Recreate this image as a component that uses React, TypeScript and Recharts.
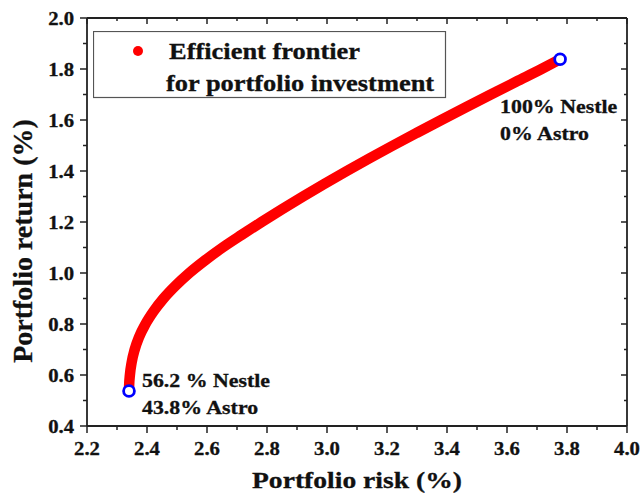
import React from 'react';
import { LineChart, Line, XAxis, YAxis, Legend } from 'recharts';

// Efficient frontier readings (risk %, return %)
const riskValues = [2.340, 2.3405, 2.343, 2.349, 2.359, 2.374, 2.395, 2.422, 2.455, 2.495, 2.541, 2.594, 2.652, 2.716, 2.782, 2.850, 2.920, 2.992, 3.066, 3.142, 3.220, 3.300, 3.381, 3.463, 3.546, 3.630, 3.715, 3.777];
const returnValues = [0.537, 0.56, 0.60, 0.65, 0.70, 0.75, 0.80, 0.85, 0.90, 0.95, 1.00, 1.05, 1.10, 1.15, 1.20, 1.25, 1.30, 1.35, 1.40, 1.45, 1.50, 1.55, 1.60, 1.65, 1.70, 1.75, 1.80, 1.838];

const xMajorTicks = [2.2, 2.4, 2.6, 2.8, 3.0, 3.2, 3.4, 3.6, 3.8, 4.0];
const xMinorTicks = [2.3, 2.5, 2.7, 2.9, 3.1, 3.3, 3.5, 3.7, 3.9];
const yMajorTicks = [0.4, 0.6, 0.8, 1.0, 1.2, 1.4, 1.6, 1.8, 2.0];
const yMinorTicks = [0.5, 0.7, 0.9, 1.1, 1.3, 1.5, 1.7, 1.9];

const legendLines = ['Efficient frontier', 'for portfolio investment'];
const startLabel = ['56.2 % Nestle', '43.8% Astro'];
const endLabel = ['100% Nestle', '0% Astro'];
const xTitle = 'Portfolio risk (%)';
const yTitle = 'Portfolio return (%)';

const data = riskValues.map((r, i) => ({ risk: r, ret: returnValues[i] }));
const xTicks = [...xMajorTicks, ...xMinorTicks].sort((a, b) => a - b);
const yTicks = [...yMajorTicks, ...yMinorTicks].sort((a, b) => a - b);

const FONT = '"Liberation Serif", "Times New Roman", serif';
const AX = '#222';
const SX = 1.15;
const TXT = { fontFamily: FONT, fontWeight: 'bold' as const, fill: '#111', stroke: '#111', strokeWidth: 0.3 };

const BottomTick = (p: any) => {
  const { x, y, payload } = p;
  const major = xMajorTicks.includes(payload.value);
  return (
    <g>
      <line x1={x} y1={y} x2={x} y2={y + (major ? 7 : 4)} stroke={AX} strokeWidth={1.5} />
      {major && (
        <text transform={`translate(${x},${y + 29}) scale(${SX},1)`} textAnchor="middle" fontSize={18} {...TXT}>
          {payload.value.toFixed(1)}
        </text>
      )}
    </g>
  );
};

const TopTick = (p: any) => {
  const { x, y, payload } = p;
  const major = xMajorTicks.includes(payload.value);
  return <line x1={x} y1={y} x2={x} y2={y + (major ? 6 : 3)} stroke={AX} strokeWidth={1.5} />;
};

const LeftTick = (p: any) => {
  const { x, y, payload } = p;
  const major = yMajorTicks.includes(payload.value);
  return (
    <g>
      <line x1={x} y1={y} x2={x - (major ? 7 : 4)} y2={y} stroke={AX} strokeWidth={1.5} />
      {major && (
        <text transform={`translate(${x - 13},${y + 7}) scale(${SX},1)`} textAnchor="end" fontSize={18} {...TXT}>
          {payload.value.toFixed(1)}
        </text>
      )}
    </g>
  );
};

const RightTick = (p: any) => {
  const { x, y, payload } = p;
  const major = yMajorTicks.includes(payload.value);
  return <line x1={x} y1={y} x2={x - (major ? 6 : 3)} y2={y} stroke={AX} strokeWidth={1.5} />;
};

const XTitle = (p: any) => {
  const vb = p.viewBox || {};
  const cx = vb.x + vb.width / 2;
  return (
    <text transform={`translate(${cx},${vb.y + 62}) scale(${SX},1)`} textAnchor="middle" fontSize={24} {...TXT}>
      {xTitle}
    </text>
  );
};

const YTitle = (p: any) => {
  const vb = p.viewBox || {};
  const cy = vb.y + vb.height / 2 + 19;
  return (
    <text transform={`translate(32,${cy}) rotate(-90)`} textAnchor="middle" fontSize={28} {...TXT}>
      {yTitle}
    </text>
  );
};

const EndDot = (p: any) => {
  const { cx, cy, index } = p;
  const last = data.length - 1;
  if (index !== 0 && index !== last) return <g key={`d${index}`} />;
  const lines = index === 0 ? startLabel : endLabel;
  const dx = index === 0 ? 13 : -60;
  const dy = index === 0 ? -4 : 54;
  return (
    <g key={`d${index}`}>
      <circle cx={cx} cy={cy} r={5.4} fill="#fff" stroke="#0000ff" strokeWidth={2.8} />
      {lines.map((t, i) => (
        <text key={i} transform={`translate(${cx + dx},${cy + dy + i * 27}) scale(${SX},1)`} fontSize={19} {...TXT}>
          {t}
        </text>
      ))}
    </g>
  );
};

const LegendBox = () => (
  <svg width={354} height={68} style={{ display: 'block' }}>
    <rect x={0.5} y={0.5} width={352} height={66} fill="#fff" stroke="#555" strokeWidth={1.2} />
    <circle cx={45} cy={20} r={5} fill="#ff0000" />
    <text transform={`translate(76,27.5) scale(${SX},1)`} fontSize={23} {...TXT}>
      {legendLines[0]}
    </text>
    <text transform={`translate(73,59.5) scale(${SX},1)`} fontSize={23} {...TXT}>
      {legendLines[1]}
    </text>
  </svg>
);

export default function App() {
  return (
    <div style={{ position: 'absolute', left: 0, top: 0, width: 643, height: 494, background: '#fff' }}>
      <LineChart width={643} height={494} data={data} margin={{ top: 8, right: 0, bottom: 0, left: 0 }}>
        <XAxis
          xAxisId="b"
          dataKey="risk"
          type="number"
          domain={[2.2, 4.0]}
          allowDataOverflow
          ticks={xTicks}
          interval={0}
          height={68}
          tickSize={0}
          tickMargin={0}
          tick={BottomTick}
          axisLine={{ stroke: AX, strokeWidth: 1.8 }}
          label={{ value: xTitle, content: XTitle }}
        />
        <XAxis
          xAxisId="t"
          orientation="top"
          dataKey="risk"
          type="number"
          domain={[2.2, 4.0]}
          allowDataOverflow
          ticks={xTicks}
          interval={0}
          height={10}
          tickSize={0}
          tickMargin={0}
          tick={TopTick}
          axisLine={{ stroke: AX, strokeWidth: 1.8 }}
        />
        <YAxis
          yAxisId="l"
          type="number"
          domain={[0.4, 2.0]}
          allowDataOverflow
          ticks={yTicks}
          interval={0}
          width={87}
          tickSize={0}
          tickMargin={0}
          tick={LeftTick}
          axisLine={{ stroke: AX, strokeWidth: 1.8 }}
          label={{ value: yTitle, content: YTitle }}
        />
        <YAxis
          yAxisId="r"
          orientation="right"
          type="number"
          domain={[0.4, 2.0]}
          allowDataOverflow
          ticks={yTicks}
          interval={0}
          width={16}
          tickSize={0}
          tickMargin={0}
          tick={RightTick}
          axisLine={{ stroke: AX, strokeWidth: 1.8 }}
        />
        <Legend
          layout="horizontal"
          verticalAlign="middle"
          align="center"
          wrapperStyle={{ left: 93, top: 31, width: 354, height: 68 }}
          content={LegendBox}
        />
        <Line
          xAxisId="b"
          yAxisId="l"
          dataKey="ret"
          type="monotone"
          stroke="#ff0000"
          strokeWidth={10.5}
          dot={EndDot}
          activeDot={false}
          isAnimationActive={false}
        />
      </LineChart>
    </div>
  );
}
